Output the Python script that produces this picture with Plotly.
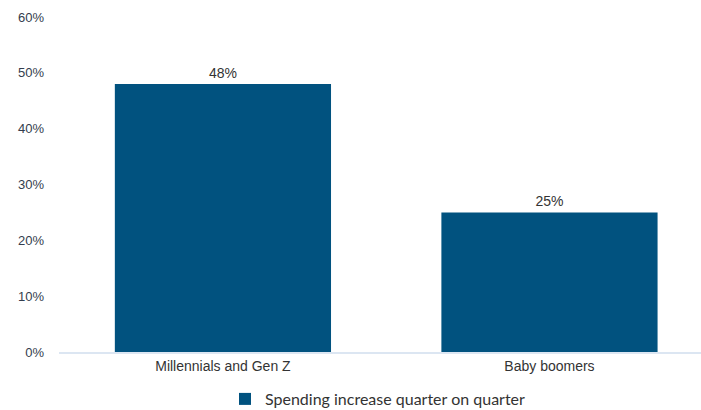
import plotly.graph_objects as go

categories = ["Millennials and Gen Z", "Baby boomers"]
values = [48, 25]
series_name = "Spending increase quarter on quarter"
tick_vals = [0, 10, 20, 30, 40, 50, 60]
tick_text = ["0%", "10%", "20%", "30%", "40%", "50%", "60%"]

fig = go.Figure()
fig.add_trace(go.Bar(
    x=categories, y=values, name=series_name,
    marker=dict(color="#01527f", line=dict(width=0)),
    width=0.662,
    text=[f"{v}%" for v in values], textposition="outside",
    textfont=dict(family="Liberation Sans, Arial", size=14, color="#333333"),
    cliponaxis=False,
    showlegend=True,
))

fig.update_layout(
    width=701, height=410,
    margin=dict(l=59, r=0, t=17, b=58, autoexpand=False),
    paper_bgcolor="white", plot_bgcolor="white",
    font=dict(family="Liberation Sans, Arial", size=13, color="#333333"),
    xaxis=dict(
        type="category", range=[-0.502, 1.464], automargin=False,
        showline=True, linecolor="#dce6f2", linewidth=2,
        showgrid=False, ticks="", tickfont=dict(size=14, color="#333333"),
    ),
    yaxis=dict(
        range=[0, 60], tickvals=tick_vals, ticktext=tick_text, automargin=False,
        showgrid=False, zeroline=False, showline=False, ticks="",
        ticklabelstandoff=14,
        tickfont=dict(size=13, color="#333d4d"),
    ),
    showlegend=True,
    legend=dict(
        orientation="h", xref="container", yref="container",
        x=225 / 701, xanchor="left", y=11 / 410, yanchor="middle",
        font=dict(family="Lato, Open Sans", size=16, color="#333333"),
        itemwidth=30,
    ),
)

fig.write_html("out.html")
